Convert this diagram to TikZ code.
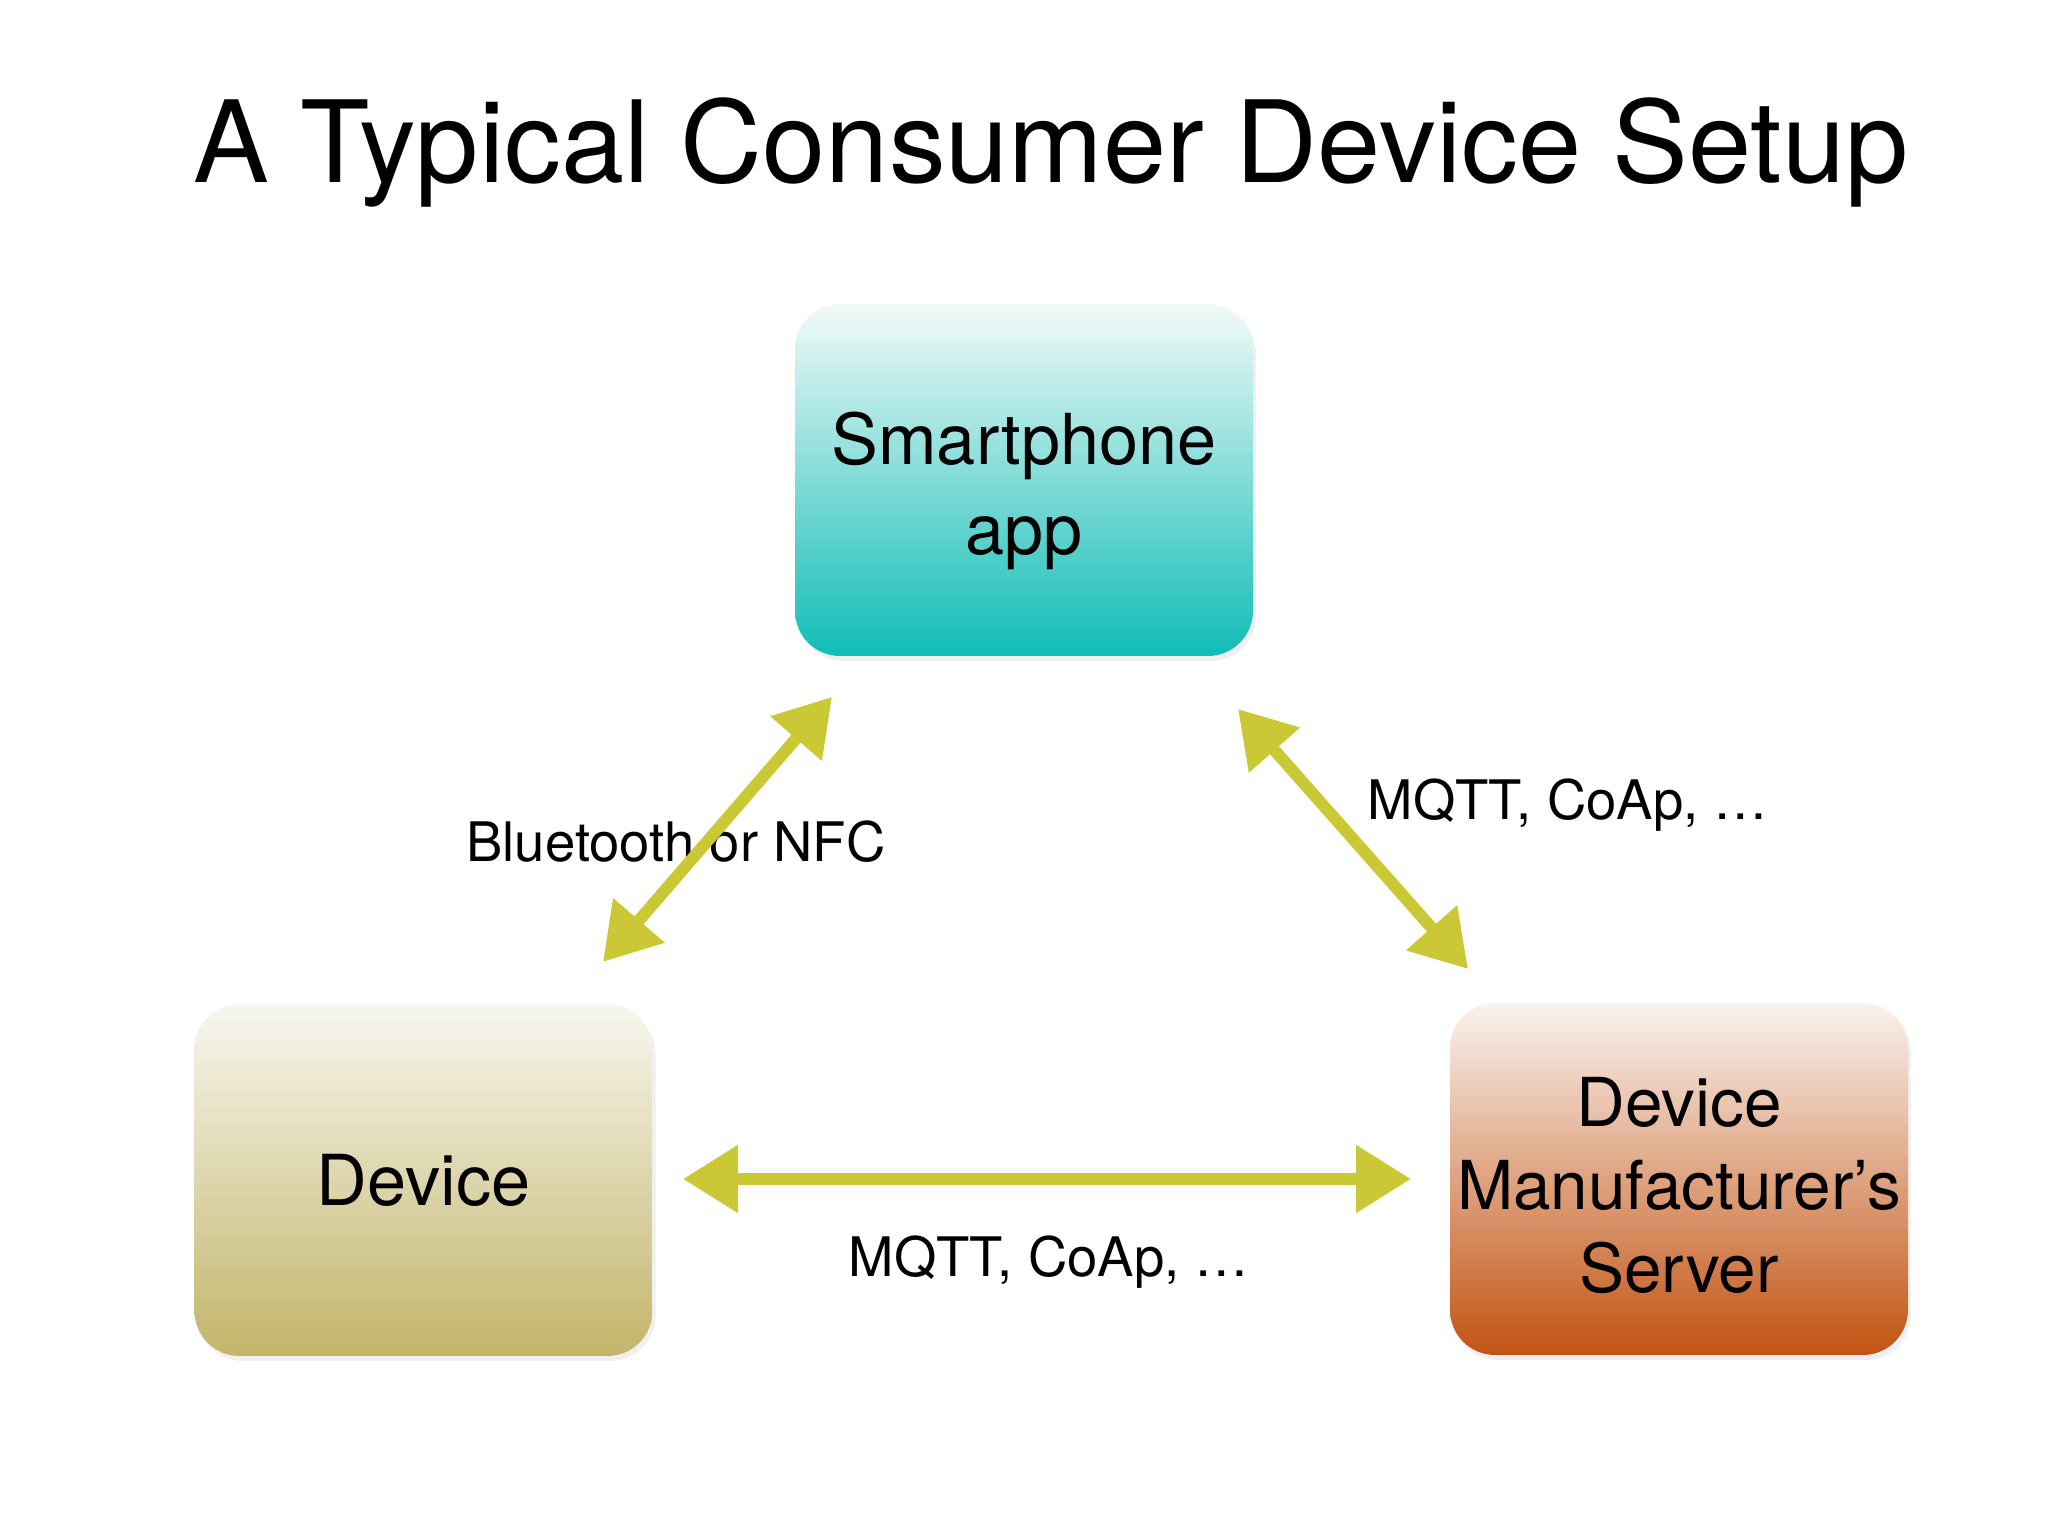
\documentclass[tikz,border=0pt]{standalone}
\usepackage{fontspec}
\setmainfont{TeX Gyre Heros}
\usepackage{tikz}
\usetikzlibrary{arrows.meta}
\usetikzlibrary{shadows}
\definecolor{arrowcol}{RGB}{202,200,52}
\definecolor{phonetop}{RGB}{242,250,248}
\definecolor{phonebot}{RGB}{16,189,183}
\definecolor{devtop}{RGB}{248,247,240}
\definecolor{devbot}{RGB}{194,181,106}
\definecolor{servtop}{RGB}{250,242,238}
\definecolor{servbot}{RGB}{194,84,18}

\begin{document}
\begin{tikzpicture}[scale=1,
  box/.style={rounded corners=0.45cm, minimum width=4.58cm, minimum height=3.52cm,
    inner sep=0pt, align=center, drop shadow={opacity=0.12, shadow xshift=0.03, shadow yshift=-0.05}},
  link/.style={line width=3.4pt, arrowcol, {Triangle[length=0.55cm,width=0.65cm]}-{Triangle[length=0.55cm,width=0.65cm]}},
  lbl/.style={anchor=base, font=\fontsize{15.5}{18}\selectfont}]
\useasboundingbox (0,0) rectangle (20.48,15.36);
\node [anchor=base, font=\fontsize{32.3}{40}\selectfont] (title) at (10.51,13.53) {A Typical Consumer Device Setup};
% the three boxes
\node [box, top color=phonetop, bottom color=phonebot, font=\fontsize{20}{25.5}\selectfont] (phone) at (10.24,10.56) {\rule{0pt}{0.74cm}Smartphone\\app};
\node [box, top color=devtop, bottom color=devbot, font=\fontsize{20}{24}\selectfont] (device) at (4.235,3.56) {Device};
\node [box, top color=servtop, bottom color=servbot, font=\fontsize{19.2}{23.6}\selectfont] (server) at (16.79,3.57) {\rule{0pt}{0.62cm}Device\\Manufacturer’s\\Server};
% labels
\node [lbl] (bt) at (6.76,6.74) {Bluetooth or NFC};
\node [lbl] (mq1) at (15.68,7.16) {MQTT, CoAp, …};
\node [lbl] (mq2) at (10.49,2.59) {MQTT, CoAp, …};
% arrow ends
\coordinate (a1) at (8.32,8.39);
\coordinate (a2) at (6.03,5.74);
\coordinate (b1) at (12.38,8.27);
\coordinate (b2) at (14.68,5.67);
\coordinate (c1) at (6.83,3.57);
\coordinate (c2) at (14.11,3.57);
\draw [link] (a2) -- (a1);
\draw [link] (b1) -- (b2);
\draw [link] (c1) -- (c2);
\end{tikzpicture}
\end{document}
